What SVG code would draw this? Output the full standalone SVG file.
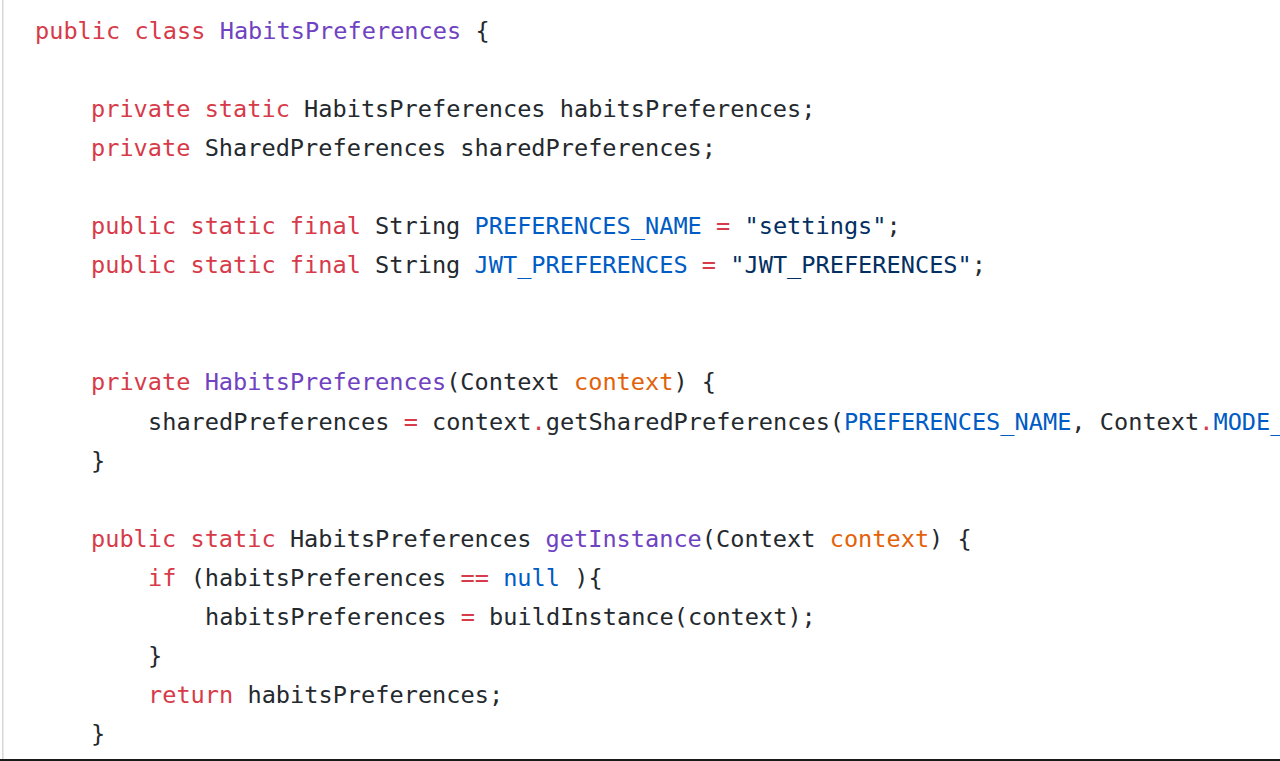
<svg xmlns="http://www.w3.org/2000/svg" width="1280" height="761" viewBox="0 0 1280 761">
<style>
text{font-family:"DejaVu Sans Mono","Liberation Mono",monospace;font-size:23.6px;fill:#24292e;white-space:pre}
.k{fill:#d73a49}.t{fill:#6f42c1}.c{fill:#005cc5}.p{fill:#e36209}.s{fill:#032f62}
</style>
<rect x="0" y="0" width="1280" height="761" fill="#ffffff"/>
<rect x="2" y="0" width="1.5" height="759" fill="#d8d8d8"/>
<rect x="0" y="759" width="1280" height="2" fill="#1a1a1a"/>
<g id="code" xml:space="preserve">
<text x="35" y="39"><tspan class="k">public class</tspan> <tspan class="t">HabitsPreferences</tspan> {</text>
<text x="91" y="117.1"><tspan class="k">private static</tspan> HabitsPreferences habitsPreferences;</text>
<text x="91" y="156.15"><tspan class="k">private</tspan> SharedPreferences sharedPreferences;</text>
<text x="91" y="234.25"><tspan class="k">public static final</tspan> String <tspan class="c">PREFERENCES_NAME</tspan> <tspan class="k">=</tspan> <tspan class="s">"settings"</tspan>;</text>
<text x="91" y="273.3"><tspan class="k">public static final</tspan> String <tspan class="c">JWT_PREFERENCES</tspan> <tspan class="k">=</tspan> <tspan class="s">"JWT_PREFERENCES"</tspan>;</text>
<text x="91" y="390.45"><tspan class="k">private</tspan> <tspan class="t">HabitsPreferences</tspan>(Context <tspan class="p">context</tspan>) {</text>
<text x="148" y="429.5">sharedPreferences <tspan class="k">=</tspan> context<tspan class="k">.</tspan>getSharedPreferences(<tspan class="c">PREFERENCES_NAME</tspan>, Context<tspan class="k">.</tspan><tspan class="c">MODE_</tspan></text>
<text x="91" y="468.55">}</text>
<text x="91" y="546.65"><tspan class="k">public static</tspan> HabitsPreferences <tspan class="t">getInstance</tspan>(Context <tspan class="p">context</tspan>) {</text>
<text x="148" y="585.7"><tspan class="k">if</tspan> (habitsPreferences <tspan class="k">==</tspan> <tspan class="c">null</tspan> ){</text>
<text x="205" y="624.75">habitsPreferences <tspan class="k">=</tspan> buildInstance(context);</text>
<text x="148" y="663.8">}</text>
<text x="148" y="702.85"><tspan class="k">return</tspan> habitsPreferences;</text>
<text x="91" y="741.9">}</text>
</g>
</svg>
